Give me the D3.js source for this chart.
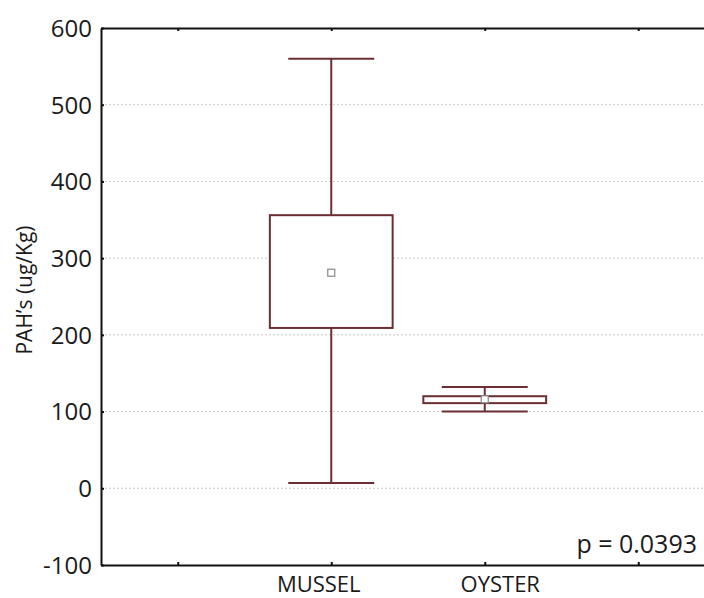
<!DOCTYPE html>
<html><head><meta charset="utf-8">
<script src="https://cdn.jsdelivr.net/npm/d3@7"></script>
<style>
body{margin:0;background:#fff;}
text{font-family:"Open Sans","Noto Sans",sans-serif;fill:#1a1a1a;}
</style></head>
<body><svg id="c" width="704" height="598"></svg>
<script>
const categories = ["MUSSEL", "OYSTER"];
const positions = [2, 3];
const whiskerMax = [560, 132];
const boxTop = [356, 120];
const meanVal = [281, 116];
const boxBottom = [209, 111];
const whiskerMin = [7, 100];
const yTicks = [-100, 0, 100, 200, 300, 400, 500, 600];
const xTickPositions = [1, 2, 3, 4];
const yLabel = "PAH\u2019s (ug/Kg)";
const pText = "p = 0.0393";

const svg = d3.select("#c");
const x = d3.scaleLinear().domain([0.5, 4.5]).range([101, 715]);
const y = d3.scaleLinear().domain([-100, 600]).range([565, 28]);
const col = "#6b2f33";

// gridlines
svg.append("g").selectAll("line").data(yTicks.filter(v => v > -100 && v < 600)).join("line")
  .attr("x1", x(0.5)).attr("x2", 704).attr("y1", d => y(d)).attr("y2", d => y(d))
  .attr("stroke", "#c8c8c8").attr("stroke-width", 1).attr("stroke-dasharray", "2,2");

// axes
const yAxis = d3.axisLeft(y).tickValues(yTicks).tickSizeInner(-4).tickSizeOuter(0).tickPadding(10)
  .tickFormat(d => String(d));
const gy = svg.append("g").attr("transform", `translate(${x(0.5)},0)`).call(yAxis);
gy.select(".domain").attr("stroke", "#111").attr("stroke-width", 2);
gy.selectAll(".tick line").attr("stroke", "#111").attr("stroke-width", 2).attr("x1", 0).attr("x2", 3);
gy.selectAll(".tick text").attr("font-size", 24).attr("fill", "#1a1a1a").attr("x", -9).attr("dy", "0.35em");

const xAxisB = d3.axisBottom(x).tickValues(xTickPositions).tickSizeInner(-4).tickSizeOuter(0)
  .tickFormat(d => { const i = positions.indexOf(d); return i >= 0 ? categories[i] : ""; });
const gxb = svg.append("g").attr("transform", `translate(0,${y(-100)})`).call(xAxisB);
gxb.select(".domain").attr("stroke", "#111").attr("stroke-width", 2);
gxb.selectAll(".tick line").attr("stroke", "#111").attr("stroke-width", 2).attr("y1", 0).attr("y2", -3);
gxb.selectAll(".tick text").attr("font-size", 22).attr("fill", "#1a1a1a").attr("y", 27).attr("dy", 0)
  .attr("dx", d => d === 2 ? -13 : (d === 3 ? 15 : 0));

const xAxisT = d3.axisTop(x).tickValues(xTickPositions).tickSizeInner(-4).tickSizeOuter(0).tickFormat("");
const gxt = svg.append("g").attr("transform", `translate(0,${y(600)})`).call(xAxisT);
gxt.select(".domain").attr("stroke", "#111").attr("stroke-width", 2);
gxt.selectAll(".tick line").attr("stroke", "#111").attr("stroke-width", 2).attr("y1", 0).attr("y2", 3);

// boxes
const data = categories.map((c, i) => ({c, p: positions[i], hi: whiskerMax[i], q3: boxTop[i], m: meanVal[i], q1: boxBottom[i], lo: whiskerMin[i]}));
const g = svg.append("g");
const boxW = 0.8, capW = 0.56;
data.forEach(d => {
  const cx = x(d.p);
  g.append("line").attr("x1", cx).attr("x2", cx).attr("y1", y(d.hi)).attr("y2", y(d.q3)).attr("stroke", col).attr("stroke-width", 2);
  g.append("line").attr("x1", cx).attr("x2", cx).attr("y1", y(d.q1)).attr("y2", y(d.lo)).attr("stroke", col).attr("stroke-width", 2);
  [d.hi, d.lo].forEach(v => g.append("line")
    .attr("x1", x(d.p - capW / 2)).attr("x2", x(d.p + capW / 2)).attr("y1", y(v)).attr("y2", y(v))
    .attr("stroke", col).attr("stroke-width", 2));
  g.append("rect").attr("x", x(d.p - boxW / 2)).attr("width", x(d.p + boxW / 2) - x(d.p - boxW / 2))
    .attr("y", y(d.q3)).attr("height", y(d.q1) - y(d.q3))
    .attr("fill", "#fff").attr("stroke", col).attr("stroke-width", 2);
  g.append("rect").attr("x", cx - 3.5).attr("y", y(d.m) - 3.5).attr("width", 7).attr("height", 7)
    .attr("fill", "#fff").attr("stroke", "#888").attr("stroke-width", 1.2);
});

// y label
svg.append("text").attr("transform", `translate(25,290) rotate(-90)`)
  .attr("text-anchor", "middle").attr("dy", "0.35em").attr("font-size", 21).text(yLabel);

// p value
svg.append("text").attr("x", 697).attr("y", 553).attr("text-anchor", "end").attr("font-size", 25).text(pText);
</script></body></html>
